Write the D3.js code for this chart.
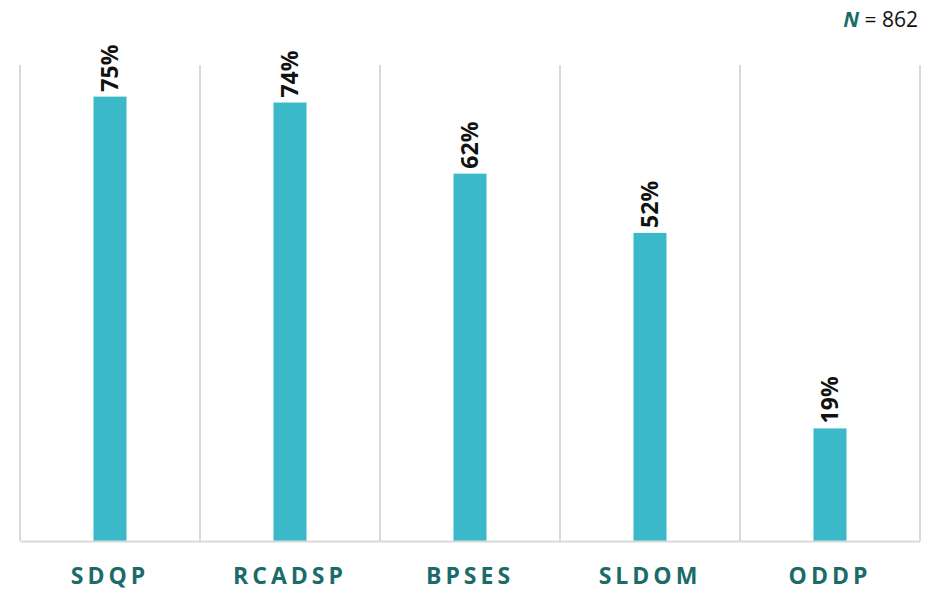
<!DOCTYPE html>
<html>
<head>
<meta charset="utf-8">
<script src="https://cdn.jsdelivr.net/npm/d3@7"></script>
<style>
  body { margin: 0; background: #fff; }
  svg { display: block; font-family: "Open Sans", sans-serif; }
</style>
</head>
<body>
<div id="chart"></div>
<script>
var categories = ["SDQP", "RCADSP", "BPSES", "SLDOM", "ODDP"];
var values = [75, 74, 62, 52, 19];
var sampleSize = 862;

var margin = {top: 65, right: 12, bottom: 50, left: 20},
width = 932 - margin.left - margin.right,
height = 591 - margin.top - margin.bottom;

var svg = d3.select("#chart")
.append("svg")
.attr("width", width + margin.left + margin.right)
.attr("height", height + margin.top + margin.bottom)
.append("g")
.attr("transform", "translate(" + margin.left + "," + margin.top + ")");

var x = d3.scaleBand().domain(categories).range([0, width]);
var y = d3.scaleLinear().domain([0, 80]).range([height, 2]);

// vertical separators between categories
var edges = categories.map(function(d) { return x(d); }).concat([width]);
svg.selectAll(".sep")
.data(edges)
.enter().append("line")
.attr("class", "sep")
.attr("x1", function(d) { return d; })
.attr("x2", function(d) { return d; })
.attr("y1", 0)
.attr("y2", height)
.attr("stroke", "#d9d9d9")
.attr("stroke-width", 2);

// bars
var barW = 33;
svg.selectAll(".bar")
.data(values)
.enter().append("rect")
.attr("class", "bar")
.attr("x", function(d, i) { return x(categories[i]) + x.bandwidth() / 2 - barW / 2; })
.attr("width", barW)
.attr("y", function(d) { return y(d); })
.attr("height", function(d) { return height - y(d); })
.attr("fill", "#3bb9c8");

// bottom axis
var xAxis = svg.append("g")
.attr("transform", "translate(0," + height + ")")
.call(d3.axisBottom(x).tickSize(0).tickPadding(27));

xAxis.select(".domain")
.attr("stroke", "#d9d9d9")
.attr("stroke-width", 2);

xAxis.selectAll("text")
.attr("font-family", "Open Sans, sans-serif")
.attr("font-size", 23)
.attr("font-weight", "bold")
.attr("letter-spacing", "4px")
.attr("fill", "#1b6b69");

// value labels, rotated
svg.selectAll(".lbl")
.data(values)
.enter().append("text")
.attr("class", "lbl")
.attr("transform", function(d, i) {
  var cx = x(categories[i]) + x.bandwidth() / 2;
  return "translate(" + (cx + 8) + "," + (y(d) - 5) + ") rotate(-90)";
})
.attr("text-anchor", "start")
.attr("font-family", "Open Sans, sans-serif")
.attr("font-weight", "bold")
.attr("font-size", 23)
.attr("fill", "#111")
.text(function(d) { return d + "%"; });

// sample size note
var note = d3.select("svg").append("text")
.attr("x", 918)
.attr("y", 27)
.attr("text-anchor", "end")
.attr("font-family", "Open Sans, sans-serif")
.attr("font-size", 21)
.attr("fill", "#111");
note.append("tspan")
.attr("font-weight", "bold")
.attr("font-style", "italic")
.attr("fill", "#1b6b69")
.text("N");
note.append("tspan").text(" = " + sampleSize);
</script>
</body>
</html>
